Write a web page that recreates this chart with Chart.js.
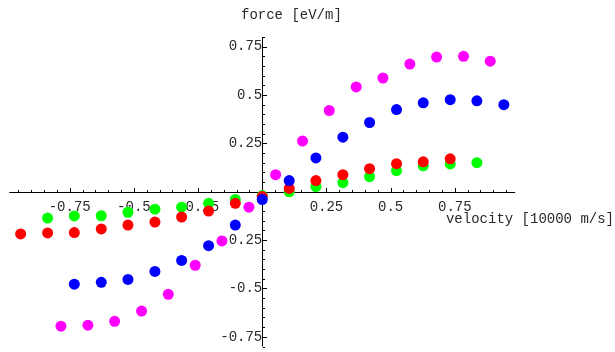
<!DOCTYPE html>
<html lang="en">

<head>
    <meta charset="UTF-8">
    <meta name="viewport" content="width=device-width, initial-scale=1.0">
    <script src="https://cdn.jsdelivr.net/npm/chart.js"></script>
    <title>force vs velocity</title>
    <style>
        html, body { margin: 0; padding: 0; background: #fff; }
        .container { width: 615px; height: 352px; }
    </style>
    <script>
        // data
        const greenV = [-0.836, -0.732, -0.627, -0.523, -0.418, -0.314, -0.209, -0.105, 0, 0.105, 0.209, 0.314, 0.418, 0.523, 0.627, 0.732, 0.836];
        const greenF = [-0.136, -0.125, -0.124, -0.106, -0.09, -0.08, -0.06, -0.04, -0.02, 0.0, 0.027, 0.047, 0.078, 0.109, 0.134, 0.144, 0.15];

        const redV = [-0.941, -0.836, -0.732, -0.627, -0.523, -0.418, -0.314, -0.209, -0.105, 0, 0.105, 0.209, 0.314, 0.418, 0.523, 0.627, 0.732];
        const redF = [-0.218, -0.213, -0.211, -0.192, -0.172, -0.157, -0.131, -0.1, -0.06, -0.025, 0.017, 0.058, 0.088, 0.119, 0.145, 0.155, 0.17];

        const blueV = [-0.732, -0.627, -0.523, -0.418, -0.314, -0.209, -0.105, 0, 0.105, 0.209, 0.314, 0.418, 0.523, 0.627, 0.732, 0.836, 0.941];
        const blueF = [-0.478, -0.468, -0.453, -0.412, -0.355, -0.279, -0.172, -0.04, 0.058, 0.175, 0.282, 0.358, 0.425, 0.46, 0.476, 0.47, 0.45];

        const magentaV = [-0.784, -0.679, -0.575, -0.47, -0.366, -0.261, -0.157, -0.052, 0.052, 0.157, 0.261, 0.366, 0.47, 0.575, 0.679, 0.784, 0.888];
        const magentaF = [-0.695, -0.69, -0.67, -0.617, -0.53, -0.38, -0.254, -0.08, 0.088, 0.262, 0.42, 0.542, 0.588, 0.66, 0.696, 0.70, 0.675];

        const xTicks = [-0.75, -0.5, -0.25, 0.25, 0.5, 0.75];
        const xTickLabels = ['-0.75', '-0.5', '-0.25', '0.25', '0.5', '0.75'];
        const yTicks = [-0.75, -0.5, -0.25, 0.25, 0.5, 0.75];
        const yTickLabels = ['-0.75', '-0.5', '-0.25', '0.25', '0.5', '0.75'];

        const xTitle = 'velocity [10000 m/s]';
        const yTitle = 'force [eV/m]';

        const FONT = '"Liberation Mono", "DejaVu Sans Mono", monospace';
        const TEXT = '#2a2a2a';

        function toPoints(vs, fs) {
            return vs.map(function (v, i) { return { x: v, y: fs[i] }; });
        }

        // axis lines, major and minor ticks, axis labels (Mathematica look)
        const axesPlugin = {
            id: 'axesPlugin',
            beforeDatasetsDraw: function (chart) {
                const ctx = chart.ctx;
                const xs = chart.scales.x, ys = chart.scales.y;
                const x0 = xs.getPixelForValue(0), y0 = ys.getPixelForValue(0);
                ctx.save();
                ctx.strokeStyle = '#000';
                ctx.lineWidth = 1;
                ctx.beginPath();
                // x axis
                ctx.moveTo(xs.getPixelForValue(-0.985), Math.round(y0) + 0.5);
                ctx.lineTo(xs.getPixelForValue(0.985), Math.round(y0) + 0.5);
                // y axis
                ctx.moveTo(Math.round(x0) + 0.5, ys.getPixelForValue(0.8));
                ctx.lineTo(Math.round(x0) + 0.5, ys.getPixelForValue(-0.8));
                // ticks every 0.05, longer every 0.25
                for (let i = -19; i <= 19; i++) {
                    if (i == 0) continue;
                    const len = (i % 5 == 0) ? 4 : 2;
                    const px = Math.round(xs.getPixelForValue(i * 0.05)) + 0.5;
                    ctx.moveTo(px, Math.round(y0));
                    ctx.lineTo(px, Math.round(y0) - len);
                }
                for (let i = -16; i <= 16; i++) {
                    if (i == 0) continue;
                    const len = (i % 5 == 0) ? 4 : 2;
                    const py = Math.round(ys.getPixelForValue(i * 0.05)) + 0.5;
                    ctx.moveTo(Math.round(x0) + 1, py);
                    ctx.lineTo(Math.round(x0) + 1 + len, py);
                }
                ctx.stroke();

                ctx.fillStyle = TEXT;
                ctx.font = '14px ' + FONT;
                ctx.textBaseline = 'middle';
                ctx.textAlign = 'left';
                ctx.fillText(yTitle, 241, 15);
                ctx.textAlign = 'right';
                ctx.fillText(xTitle, 614, 219);
                ctx.restore();
            }
        };

        window.onload = function () {
            const ctx = document.getElementById('myChart');
            const pointStyle = function (color, order) {
                return {
                    backgroundColor: color,
                    borderColor: color,
                    borderWidth: 0,
                    pointRadius: 5.5,
                    pointHoverRadius: 5.5,
                    order: order
                };
            };
            const config = {
                type: 'scatter',
                data: {
                    datasets: [
                        Object.assign({ label: 'green', data: toPoints(greenV, greenF) }, pointStyle('#00ff00', 4)),
                        Object.assign({ label: 'red', data: toPoints(redV, redF) }, pointStyle('#ff0000', 3)),
                        Object.assign({ label: 'magenta', data: toPoints(magentaV, magentaF) }, pointStyle('#ff00ff', 2)),
                        Object.assign({ label: 'blue', data: toPoints(blueV, blueF) }, pointStyle('#0000ff', 1))
                    ]
                },
                options: {
                    responsive: false,
                    animation: false,
                    devicePixelRatio: 1,
                    layout: {
                        padding: { left: 3, right: 96, top: 37, bottom: 2 }
                    },
                    scales: {
                        x: {
                            type: 'linear',
                            min: -1,
                            max: 1,
                            position: { y: 0 },
                            grid: { display: false, drawTicks: false },
                            border: { display: false },
                            afterBuildTicks: function (s) {
                                s.ticks = xTicks.map(function (v) { return { value: v }; });
                            },
                            afterFit: function (s) {
                                s.height = 0;
                                s.paddingLeft = 0; s.paddingRight = 0;
                            },
                            ticks: {
                                autoSkip: false,
                                maxRotation: 0,
                                padding: 7,
                                color: TEXT,
                                font: { family: FONT, size: 14 },
                                callback: function (v) {
                                    return xTickLabels[xTicks.indexOf(v)];
                                }
                            }
                        },
                        y: {
                            type: 'linear',
                            min: -0.8,
                            max: 0.8,
                            position: { x: 0 },
                            grid: { display: false, drawTicks: false },
                            border: { display: false },
                            afterBuildTicks: function (s) {
                                s.ticks = yTicks.map(function (v) { return { value: v }; });
                            },
                            afterFit: function (s) {
                                s.width = 0;
                                s.paddingTop = 0; s.paddingBottom = 0;
                            },
                            ticks: {
                                autoSkip: false,
                                padding: 5,
                                color: TEXT,
                                font: { family: FONT, size: 14 },
                                callback: function (v) {
                                    return yTickLabels[yTicks.indexOf(v)];
                                }
                            }
                        }
                    },
                    plugins: {
                        legend: { display: false },
                        title: { display: false },
                        tooltip: { enabled: false }
                    }
                },
                plugins: [axesPlugin]
            };
            new Chart(ctx, config);
        };
    </script>
</head>

<body>
    <div class="container">
        <canvas id="myChart" width="615" height="352"></canvas>
    </div>
</body>

</html>
